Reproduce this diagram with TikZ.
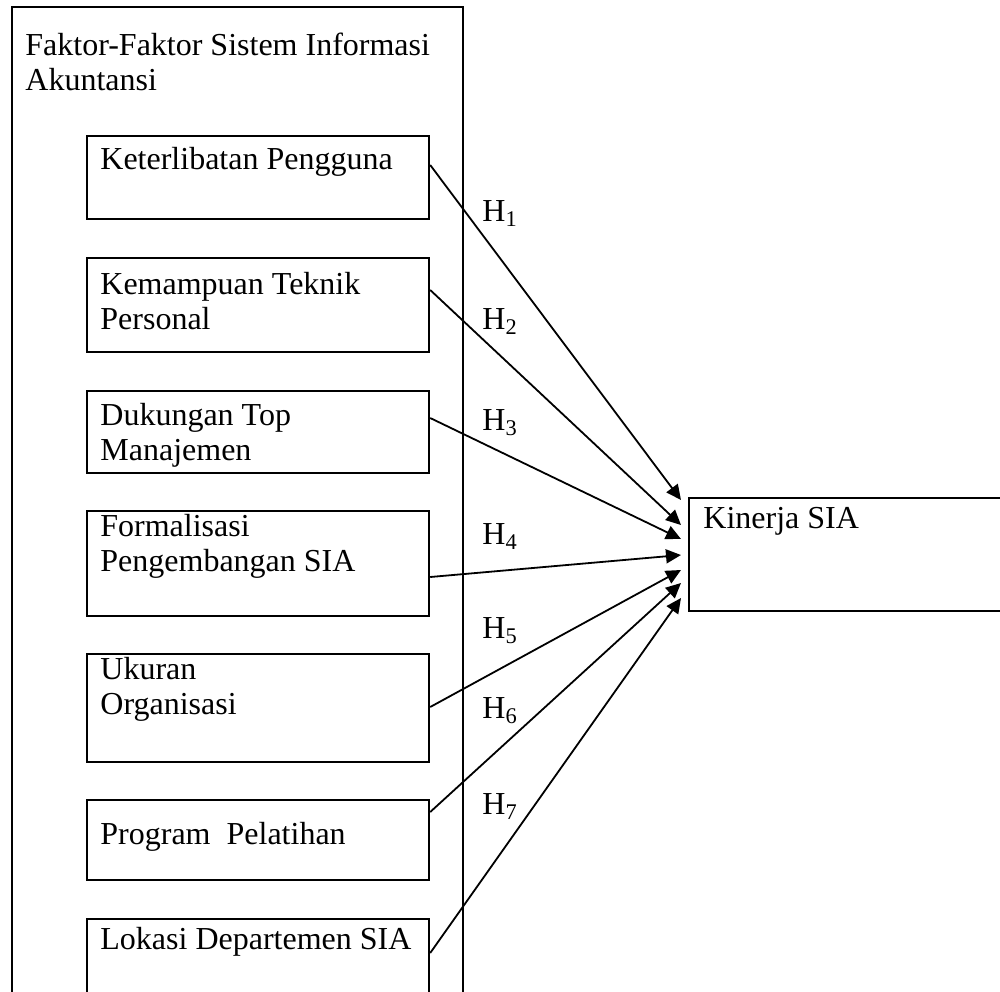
\documentclass[tikz,border=0pt]{standalone}
\usepackage{fontspec}
\setmainfont{Liberation Serif}
\usepackage{tikz}
\usetikzlibrary{arrows.meta}
\tikzset{
  factor/.style={
    draw,
    line width=1.1pt,
    inner sep=0pt,
    anchor=north west,
    minimum width=171pt},
  ftext/.style={
    inner sep=0pt,
    anchor=north west,
    align=left,
    font=\fontsize{16}{17.5}\selectfont},
  hyp/.style={
    -{Triangle[length=7.5pt,width=7pt]},
    line width=0.9pt}
  }

\begin{document}
\begin{tikzpicture}[x=0.5pt,y=-0.5pt]
      \useasboundingbox (0,0) rectangle (1000,991);
      \clip (0,0) rectangle (1000,991);
      \node[factor, minimum width=225.5pt, minimum height=500pt] (outer) at (11,6) {};
      \node[ftext] (title) at (25,33) {Faktor-Faktor Sistem Informasi\\Akuntansi};
      \node[factor, minimum height=41.5pt] (f1) at (86,135) {};
      \node[factor, minimum height=47pt] (f2) at (86,257) {};
      \node[factor, minimum height=41pt] (f3) at (86,390) {};
      \node[factor, minimum height=52.5pt] (f4) at (86,510) {};
      \node[factor, minimum height=54pt] (f5) at (86,653) {};
      \node[factor, minimum height=40pt] (f6) at (86,799) {};
      \node[factor, minimum height=50pt] (f7) at (86,918) {};
      \node[factor, minimum height=56.5pt, minimum width=165pt] (k) at (688,497) {};
      \node[ftext] (t1) at (100,147) {Keterlibatan Pengguna};
      \node[ftext] (t2) at (100,272) {Kemampuan Teknik\\Personal};
      \node[ftext] (t3) at (100,403) {Dukungan Top\\Manajemen};
      \node[ftext] (t4) at (100,514) {Formalisasi\\Pengembangan SIA};
      \node[ftext] (t5) at (100,657) {Ukuran\\Organisasi};
      \node[ftext] (t6) at (100,822) {Program~ Pelatihan};
      \node[ftext] (t7) at (100,927) {Lokasi Departemen SIA};
      \node[ftext] (tk) at (703,507) {Kinerja SIA};
      \node[ftext] (h1) at (482,200) {H\textsubscript{1}};
      \node[ftext] (h2) at (482,308) {H\textsubscript{2}};
      \node[ftext] (h3) at (482,409) {H\textsubscript{3}};
      \node[ftext] (h4) at (482,523) {H\textsubscript{4}};
      \node[ftext] (h5) at (482,617) {H\textsubscript{5}};
      \node[ftext] (h6) at (482,697) {H\textsubscript{6}};
      \node[ftext] (h7) at (482,793) {H\textsubscript{7}};
      \path[hyp]
      ([yshift=-15pt]f1.north east) edge ([shift={(-3.5pt,-1.5pt)}]k.north west)
      ([yshift=-16.5pt]f2.north east) edge ([shift={(-3.5pt,-14pt)}]k.north west)
      ([yshift=-14pt]f3.north east) edge ([shift={(-3.5pt,-21pt)}]k.north west)
      ([yshift=-33.5pt]f4.north east) edge ([shift={(-3.5pt,-29pt)}]k.north west)
      ([yshift=-27pt]f5.north east) edge ([shift={(-3.5pt,-36.5pt)}]k.north west)
      ([yshift=-6.5pt]f6.north east) edge ([shift={(-3.5pt,-43pt)}]k.north west)
      ([yshift=-17.5pt]f7.north east) edge ([shift={(-3.5pt,-50.5pt)}]k.north west);
    \end{tikzpicture}
\end{document}
